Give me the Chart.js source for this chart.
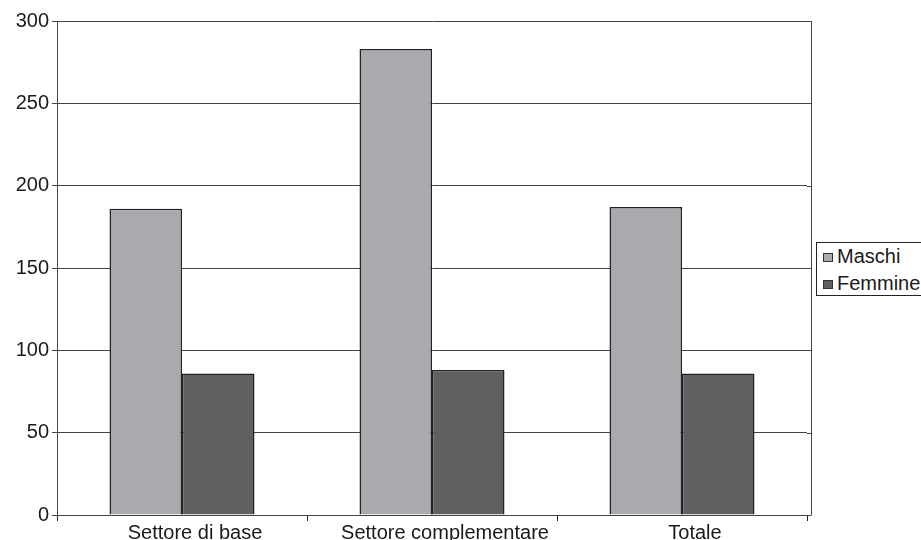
<!DOCTYPE html>
<html>
<head>
<meta charset="utf-8">
<script src="https://cdn.jsdelivr.net/npm/chart.js@4"></script>
<style>
  html, body { margin: 0; padding: 0; background: #fff; }
  #wrap { position: relative; width: 921px; height: 540px; }
  #legend {
    position: absolute; left: 816px; top: 242px; width: 120px; height: 54px;
    border: 1px solid #222; box-sizing: border-box; background: #fff;
    font-family: "Liberation Sans", Arial, sans-serif; font-size: 20px; color: #1a1a1a;
  }
  .item { position: absolute; left: 6px; height: 20px; line-height: 20px; white-space: nowrap; }
  .sw { display: inline-block; width: 8px; height: 7px; border: 1px solid #333; margin-right: 4px; vertical-align: 1px; }
</style>
</head>
<body>
<div id="wrap">
  <canvas id="chart" width="921" height="540"></canvas>
  <div id="legend">
    <div class="item" style="top:3px"><span class="sw" style="background:#a9aaae"></span>Maschi</div>
    <div class="item" style="top:30px"><span class="sw" style="background:#606062"></span>Femmine</div>
  </div>
</div>
<script>
// Data
const categories = ['Settore di base', 'Settore complementare', 'Totale'];
const maschi = [186, 283, 187];
const femmine = [86, 88, 86];
const yTicks = [0, 50, 100, 150, 200, 250, 300];

const font = { family: '"Liberation Sans", Arial, sans-serif', size: 20 };

// right border of the plot frame (sits a few px past the last category tick)
const frame = {
  id: 'frame',
  afterDraw(chart) {
    const { ctx, chartArea: a } = chart;
    const x = Math.round(a.right) + 4.5;
    ctx.save();
    ctx.strokeStyle = '#444';
    ctx.lineWidth = 1;
    ctx.beginPath();
    ctx.moveTo(a.right, a.top + 0.5);
    ctx.lineTo(x, a.top + 0.5);
    ctx.moveTo(x, a.top);
    ctx.lineTo(x, a.bottom);
    ctx.stroke();
    // extend gridlines to the frame
    const y = chart.scales.y;
    yTicks.forEach(v => {
      const py = Math.round(y.getPixelForValue(v)) + 0.5;
      ctx.beginPath();
      ctx.moveTo(a.right, py);
      ctx.lineTo(x, py);
      ctx.stroke();
    });
    ctx.restore();
  }
};

new Chart(document.getElementById('chart'), {
  type: 'bar',
  data: {
    labels: categories,
    datasets: [
      {
        label: 'Maschi',
        data: maschi,
        backgroundColor: '#a9aaae',
        borderColor: '#222',
        borderWidth: 1.5,
        categoryPercentage: 0.58,
        barPercentage: 1.0
      },
      {
        label: 'Femmine',
        data: femmine,
        backgroundColor: '#606062',
        borderColor: '#222',
        borderWidth: 1.5,
        categoryPercentage: 0.58,
        barPercentage: 1.0
      }
    ]
  },
  options: {
    responsive: false,
    animation: false,
    layout: { padding: { top: 21, right: 114, left: 0, bottom: 0 } },
    scales: {
      x: {
        grid: { display: true, drawOnChartArea: false, drawTicks: true, tickLength: 6, offset: true, color: '#222' },
        border: { display: true, color: '#444', width: 1 },
        ticks: { color: '#1a1a1a', font: font, padding: 0, labelOffset: 13 },
        afterFit(s) { s.height = 25; }
      },
      y: {
        min: 0,
        max: 300,
        afterBuildTicks(s) { s.ticks = yTicks.map(v => ({ value: v })); },
        grid: { color: '#444', lineWidth: 1, drawTicks: true, tickLength: 5 },
        border: { display: true, color: '#444', width: 1 },
        ticks: { color: '#1a1a1a', font: font, padding: 3 },
        afterFit(s) { s.width = 57; }
      }
    },
    plugins: {
      legend: { display: false },
      tooltip: { enabled: false }
    }
  },
  plugins: [frame]
});
</script>
</body>
</html>
